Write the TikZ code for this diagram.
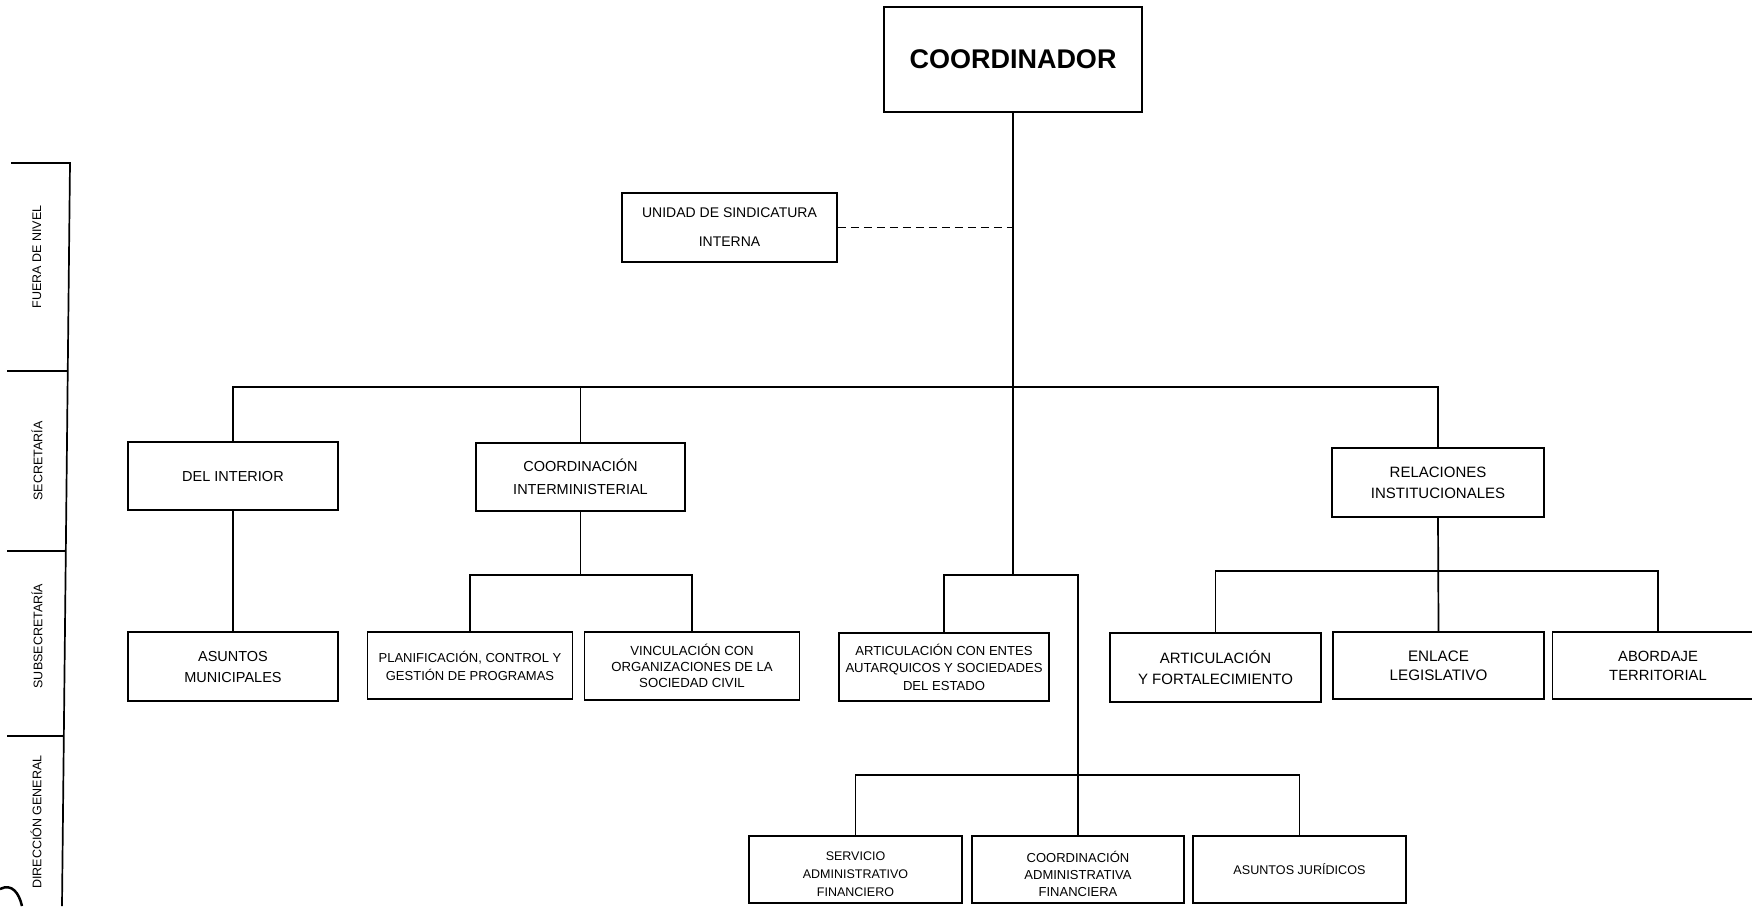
\documentclass[tikz,border=0pt]{standalone}
\usepackage{fontspec}
\setmainfont{Liberation Sans}
\begin{document}
\begin{tikzpicture}[x=1pt,y=-1pt,
  box/.style={draw, line width=1.7pt, inner sep=0pt, align=center, anchor=center},
  wh/.style 2 args={minimum width=#1, minimum height=#2},
  txt/.style={inner sep=0pt, align=center},
  ln/.style={line width=1.7pt},
  dln/.style={line width=1.7pt, dash pattern=on 8pt off 5pt},
  side/.style={rotate=90, inner sep=0pt, font=\fontsize{12.5}{14}\selectfont}]
\useasboundingbox (0,0) rectangle (1752,906);
\fill[white] (0,0) rectangle (1752,906);

% left level scale
\coordinate (st) at (70,163);
\coordinate (sb) at (62,906);
\coordinate (t0) at (11,163);
\coordinate (l1a) at (7,371);  \coordinate (l1b) at (67.8,371);
\coordinate (l2a) at (7,551);  \coordinate (l2b) at (65.8,551);
\coordinate (l3a) at (7,736);  \coordinate (l3b) at (63.8,736);
\draw[ln] (t0) -- (st) -- (sb);
\draw[ln] (l1a) -- (l1b);
\draw[ln] (l2a) -- (l2b);
\draw[ln] (l3a) -- (l3b);
\node[side] (lv1) at (37,257) {FUERA DE NIVEL};
\node[side] (lv2) at (37,461) {SECRETARÍA};
\node[side] (lv3) at (37,636) {SUBSECRETARÍA};
\node[side] (lv4) at (36,822) {DIRECCIÓN GENERAL};
\draw[line width=2.5pt] (0,889) .. controls (12,883) and (19,893) .. (22,906);

% boxes
\node[box, wh={258}{105}, font=\bfseries\fontsize{27}{30}\selectfont] (coord) at (1013,59.5) {COORDINADOR};
\node[box, wh={215}{69}, font=\fontsize{14}{29}\selectfont] (unidad) at (729.5,227.5) {UNIDAD DE SINDICATURA\\INTERNA};

\node[box, wh={210}{68}, font=\fontsize{14.5}{21}\selectfont] (delint) at (233,476) {DEL INTERIOR};
\node[box, wh={209}{68}, font=\fontsize{14.5}{23}\selectfont] (coordinter) at (580.5,477) {COORDINACIÓN\\INTERMINISTERIAL};
\node[box, wh={212}{69}, font=\fontsize{15}{21}\selectfont] (relinst) at (1438,482.5) {RELACIONES\\INSTITUCIONALES};

\node[box, wh={210}{69}, font=\fontsize{14.5}{21}\selectfont] (asmun) at (233,666.5) {ASUNTOS\\MUNICIPALES};
\node[box, wh={205}{67}, font=\fontsize{13}{18}\selectfont] (planif) at (470,665.5) {PLANIFICACIÓN, CONTROL Y\\GESTIÓN DE PROGRAMAS};
\node[box, wh={215}{68}, font=\fontsize{13.2}{16}\selectfont] (vinc) at (692,666) {VINCULACIÓN CON\\ORGANIZACIONES DE LA\\SOCIEDAD CIVIL};
\node[box, wh={210}{68}, font=\fontsize{13.1}{17.5}\selectfont] (artentes) at (944,667) {ARTICULACIÓN CON ENTES\\AUTARQUICOS Y SOCIEDADES\\DEL ESTADO};
\node[box, wh={211}{69}, font=\fontsize{15}{21}\selectfont] (artfort) at (1215.5,667.5) {ARTICULACIÓN\\Y FORTALECIMIENTO};
\node[box, wh={211}{67}, font=\fontsize{15.2}{19}\selectfont] (enlace) at (1438.5,665.5) {ENLACE\\LEGISLATIVO};
\node[box, wh={211}{67}, font=\fontsize{14.8}{19}\selectfont] (abordaje) at (1658,665.5) {ABORDAJE\\TERRITORIAL};

\node[box, wh={213}{67}] (serv) at (855.5,869.5) {};
\node[txt, font=\fontsize{12.5}{18}\selectfont] (servt) at (855.5,874.5) {SERVICIO\\ADMINISTRATIVO\\FINANCIERO};
\node[box, wh={212}{67}] (coordadm) at (1078,869.5) {};
\node[txt, font=\fontsize{13}{17}\selectfont] (coordadmt) at (1078,873.5) {COORDINACIÓN\\ADMINISTRATIVA\\FINANCIERA};
\node[box, wh={213}{67}, font=\fontsize{12.6}{18}\selectfont] (asjur) at (1299.5,869.5) {ASUNTOS JURÍDICOS};

% bus levels
\coordinate (mainbus) at (0,387);
\coordinate (busB) at (0,575);
\coordinate (busR) at (0,571);
\coordinate (busL) at (0,775);

% connectors
\draw[ln] (coord.south) -- (coord.south |- busB);
\draw[dln] (unidad.east) -- (unidad.east -| coord.south);
\draw[ln] (delint.north) |- (relinst.north |- mainbus) -- (relinst.north);
\draw[ln] (coordinter.north) -- (coordinter.north |- mainbus);
\draw[ln] (delint.south) -- (asmun.north);
\draw[ln] (coordinter.south) -- (coordinter.south |- busB);
\draw[ln] (planif.north) |- (vinc.north |- busB) -- (vinc.north);
\draw[ln] (artentes.north) |- (coordadm.north |- busB) -- (coordadm.north);
\draw[ln] (serv.north) |- (asjur.north |- busL) -- (asjur.north);
\draw[ln] (relinst.south) -- (enlace.north);
\draw[ln] (artfort.north) |- (abordaje.north |- busR) -- (abordaje.north);
\end{tikzpicture}
\end{document}
